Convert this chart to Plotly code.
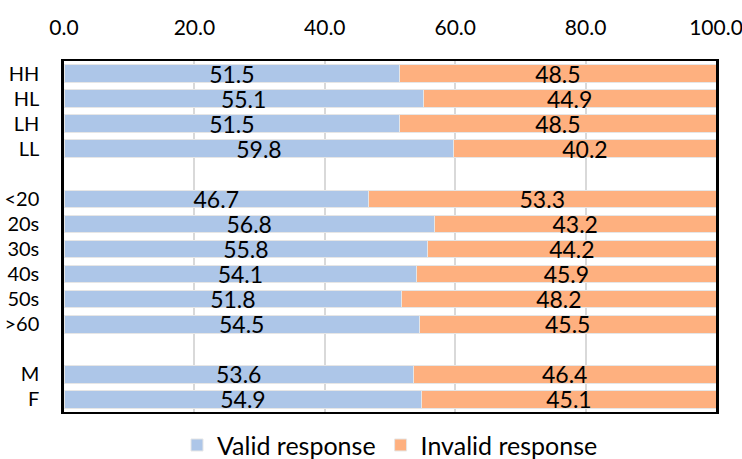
import plotly.graph_objects as go

categories = ["HH", "HL", "LH", "LL", " ", "<20", "20s", "30s", "40s", "50s", ">60", "  ", "M", "F"]
valid = [51.5, 55.1, 51.5, 59.8, None, 46.7, 56.8, 55.8, 54.1, 51.8, 54.5, None, 53.6, 54.9]
invalid = [48.5, 44.9, 48.5, 40.2, None, 53.3, 43.2, 44.2, 45.9, 48.2, 45.5, None, 46.4, 45.1]
tick_vals = [0, 20, 40, 60, 80, 100]

FONT = "Lato, Open Sans, sans-serif"

fig = go.Figure()
fig.add_trace(go.Bar(
    y=categories, x=valid, orientation="h", name="Valid response",
    marker=dict(color="#ADC6E8", line=dict(color="#E6E6E6", width=1)),
    text=[f"{v:.1f}" if v is not None else "" for v in valid],
    textposition="inside", insidetextanchor="middle",
    textfont=dict(color="black", size=23, family=FONT),
))
fig.add_trace(go.Bar(
    y=categories, x=invalid, orientation="h", name="Invalid response",
    marker=dict(color="#FEB07F", line=dict(color="#E6E6E6", width=1)),
    text=[f"{v:.1f}" if v is not None else "" for v in invalid],
    textposition="inside", insidetextanchor="middle",
    textfont=dict(color="black", size=23, family=FONT),
))

fig.update_layout(
    width=742, height=459,
    barmode="stack", bargap=0.3,
    plot_bgcolor="white", paper_bgcolor="white",
    margin=dict(l=64, r=26, t=61, b=47, autoexpand=False),
    font=dict(family=FONT, size=20, color="black"),
    uniformtext=dict(mode="show", minsize=23),
    legend=dict(orientation="h", x=0.5, xanchor="center", yref="container",
                y=0.03, yanchor="middle", bgcolor="rgba(0,0,0,0)",
                font=dict(size=25), itemwidth=30, traceorder="normal"),
    xaxis=dict(side="top", range=[0, 100], tickmode="array", tickvals=tick_vals,
               ticktext=[f"{v:.1f}" for v in tick_vals],
               showgrid=True, gridcolor="#D9D9D9", gridwidth=1.5,
               showline=True, linecolor="black", linewidth=1.5, mirror=True,
               ticks="", ticklabelstandoff=16, zeroline=False, automargin=False,
               ticklabeloverflow="allow", tickfont=dict(size=21)),
    yaxis=dict(categoryorder="array", categoryarray=categories, autorange="reversed",
               tickmode="array", tickvals=categories, ticktext=categories,
               showline=True, linecolor="black", linewidth=2.5, mirror=True, automargin=False,
               ticks="", ticklabelstandoff=18, ticklabeloverflow="allow",
               tickfont=dict(size=20)),
)

fig.write_html("out.html", config={"displayModeBar": False},
               post_script="document.body.style.margin='0';document.body.style.overflow='hidden';")
